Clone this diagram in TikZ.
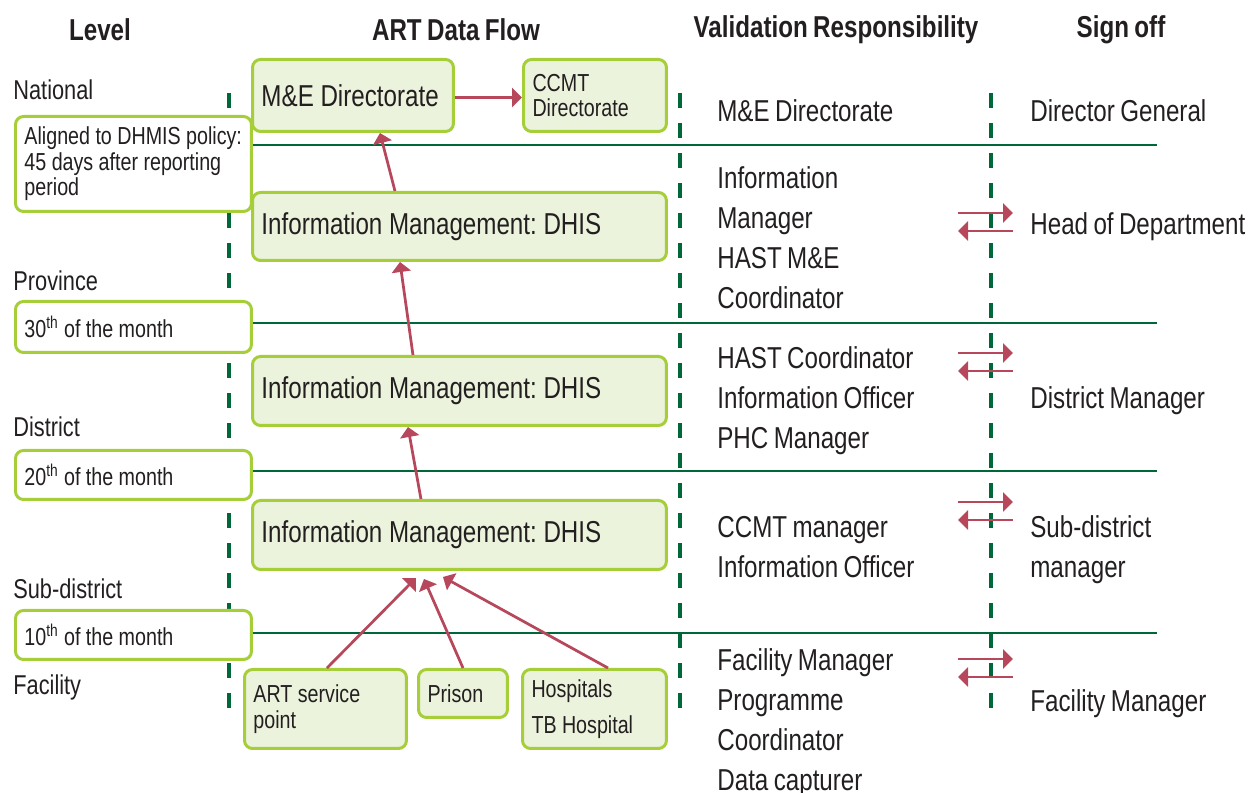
\documentclass[tikz,border=0pt]{standalone}
\usepackage{fontspec}
\setmainfont[FakeStretch=0.8, WordSpace=0.8]{Liberation Sans}
\usetikzlibrary{arrows.meta}
\definecolor{ink}{HTML}{231F20}
\definecolor{lime}{HTML}{A6CE39}
\definecolor{pale}{HTML}{EBF3DC}
\definecolor{rulegreen}{HTML}{006838}
\definecolor{flowred}{HTML}{B7485C}
\newcommand\bigtxt{\fontsize{17.2}{22.7}\selectfont}
\newcommand\smalltxt{\fontsize{14}{14.6}\selectfont}
\newcommand\leveltxt{\fontsize{15.5}{18}\selectfont}
\tikzset{>={Triangle[length=0.2cm,width=0.38cm]}}
\frenchspacing

\begin{document}
\begin{tikzpicture}[x=0.02cm, y=-0.02cm,
    every node/.style={text=ink, inner sep=0pt},
    gbox/.style={draw=lime, fill=pale, line width=0.06cm, rounded corners=0.16cm,
        anchor=north west, inner xsep=0.18cm, font=\smalltxt,
        execute at begin node={\raggedright\spaceskip=0.22em plus 0.1em minus 0.05em\relax}},
    wbox/.style={gbox, fill=white},
    head/.style={font=\bigtxt\bfseries},
    level/.style={anchor=west, font=\leveltxt},
    check/.style={anchor=west, align=left, font=\bigtxt},
    flow/.style={->, draw=flowred, line width=0.055cm},
    hline/.style={draw=rulegreen, line width=0.055cm},
    vline/.style={draw=rulegreen, line width=0.07cm, dash pattern=on 0.3cm off 0.3cm},
    swap/.pic={\draw[flow] (-27,-9) -- (28,-9); \draw[flow] (28,9) -- (-27,9);}]
    \useasboundingbox (0,0) rectangle (1252,793);
    \foreach \y in {145,323,471,633} \draw[hline] (240,\y) -- (1157,\y);
    \foreach \x in {229,680,991} \draw[vline] (\x,93) -- (\x,710);

    \node[head] (hlevel) at (100,30) {Level};
    \node[head] (hflow) at (456,30) {ART Data Flow};
    \node[head] (hcheck) at (836,30) {Validation Responsibility};
    \node[head] (hsign) at (1121,30) {Sign off};

    \node[level] (national) at (13,90) {National};
    \node[level] (province) at (13,281) {Province};
    \node[level] (district) at (13,427) {District};
    \node[level] (subdistrict) at (13,589) {Sub-district};
    \node[level] (facility) at (13,687) {Facility};

    \node[wbox, text width=4.36cm, minimum height=1.9cm] (due1) at (14,115) {Aligned to DHMIS policy:\\45 days after reporting\\period};
    \node[wbox, text width=4.36cm, minimum height=1.02cm] (due2) at (14,300) {30\textsuperscript{th} of the month};
    \node[wbox, text width=4.36cm, minimum height=0.98cm] (due3) at (14,449) {20\textsuperscript{th} of the month};
    \node[wbox, text width=4.36cm, minimum height=0.98cm] (due4) at (14,609) {10\textsuperscript{th} of the month};

    \node[gbox, font=\bigtxt, text width=3.66cm, minimum height=1.44cm] (me) at (251,58) {M\&E Directorate};
    \node[gbox, text width=2.5cm, minimum height=1.44cm] (ccmt) at (522,58) {CCMT\\Directorate};
    \node[gbox, font=\bigtxt, text width=7.92cm, minimum height=1.36cm] (im1) at (251,191) {Information Management: DHIS};
    \node[gbox, font=\bigtxt, text width=7.92cm, minimum height=1.38cm] (im2) at (251,355) {Information Management: DHIS};
    \node[gbox, font=\bigtxt, text width=7.92cm, minimum height=1.38cm] (im3) at (251,499) {Information Management: DHIS};
    \node[gbox, text width=2.88cm, minimum height=1.58cm] (art) at (243,668) {ART service\\point};
    \node[gbox, text width=1.42cm, minimum height=0.96cm] (prison) at (417,668) {Prison};
    \node[gbox, text width=2.52cm, minimum height=1.58cm] (hosp) at (521,668) {Hospitals\\[5.5pt]TB Hospital};

    \draw[flow] ([yshift=-0.04cm]me.east) -- ([yshift=-0.04cm]ccmt.west);
    \draw[flow] ([xshift=2.88cm]im1.north west) -- ([xshift=2.58cm]me.south west);
    \draw[flow] ([xshift=3.24cm]im2.north west) -- ([xshift=2.98cm]im1.south west);
    \draw[flow] ([xshift=3.4cm]im3.north west) -- ([xshift=3.14cm]im2.south west);
    \draw[flow] ([xshift=1.68cm]art.north west) -- ([xshift=3.3cm,yshift=-0.14cm]im3.south west);
    \draw[flow] ([xshift=0.92cm]prison.north west) -- ([xshift=3.46cm,yshift=-0.16cm]im3.south west);
    \draw[flow] ([xshift=1.74cm]hosp.north west) -- ([xshift=3.84cm,yshift=-0.12cm]im3.south west);

    \node[check] (vnat) at (717,111) {M\&E Directorate};
    \node[check] (vprov) at (717,238) {Information\\Manager\\HAST M\&E\\Coordinator};
    \node[check] (vdist) at (717,401) {HAST Coordinator\\Information Officer\\PHC Manager};
    \node[check] (vsub) at (717,547) {CCMT manager\\Information Officer};
    \node[check] (vfac) at (717,723) {Facility Manager\\Programme\\Coordinator\\Data capturer};

    \node[check] (snat) at (1030,111) {Director General};
    \node[check] (sprov) at (1030,227) {Head of Department};
    \node[check] (sdist) at (1030,401) {District Manager};
    \node[check] (ssub) at (1030,550) {Sub-district\\manager};
    \node[check] (sfac) at (1030,704) {Facility Manager};

    \pic at (985,222) {swap};
    \pic at (985,362) {swap};
    \pic at (985,511) {swap};
    \pic at (985,668) {swap};
\end{tikzpicture}
\end{document}
